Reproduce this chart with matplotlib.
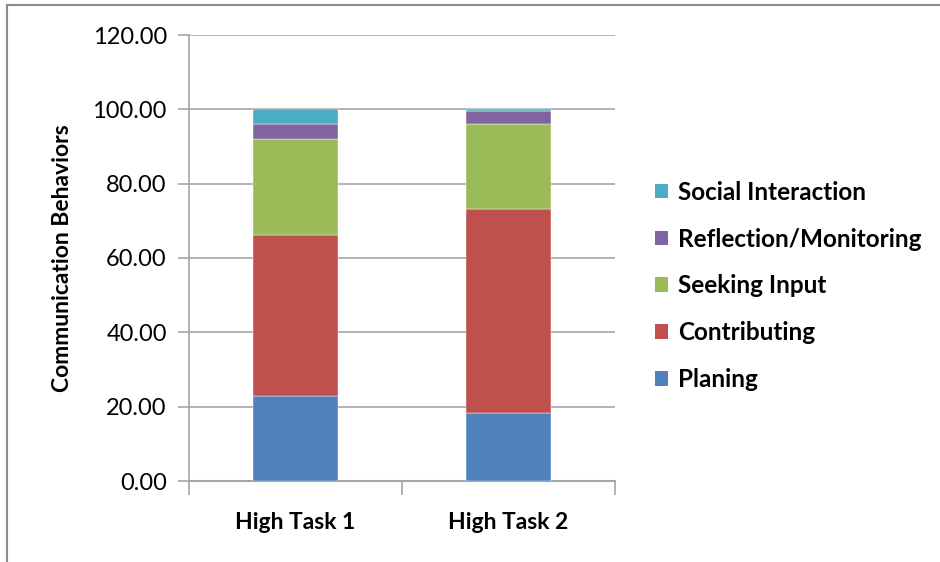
import matplotlib.pyplot as plt
from matplotlib.patches import Patch
from matplotlib.lines import Line2D

categories = ["High Task 1", "High Task 2"]
series_names = ["Planing", "Contributing", "Seeking Input",
                "Reflection/Monitoring", "Social Interaction"]
planing = [23.0, 18.2]
contributing = [43.2, 55.0]
seeking_input = [25.9, 22.8]
reflection = [3.95, 3.5]
social = [3.95, 0.5]
y_ticks = [0, 20, 40, 60, 80, 100, 120]

values = [planing, contributing, seeking_input, reflection, social]
colors = ["#4F81BD", "#C0504D", "#9BBB59", "#8064A2", "#4BACC6"]

plt.rcParams['font.family'] = ['Lato', 'DejaVu Sans']

W, H = 940, 562
fig = plt.figure(figsize=(W / 100, H / 100), dpi=100)

# outer chart frame (top and left edges visible)
fig.add_artist(Line2D([7 / W, 7 / W], [0, 1 - 5 / H], color="#8c8c8c", lw=1.5,
                      transform=fig.transFigure))
fig.add_artist(Line2D([7 / W, 1], [1 - 5 / H, 1 - 5 / H], color="#8c8c8c", lw=1.5,
                      transform=fig.transFigure))

left, right, top, bottom = 189, 615, 35, 481
ax = fig.add_axes([left / W, 1 - bottom / H, (right - left) / W, (bottom - top) / H])

x = list(range(len(categories)))
base = [0.0] * len(categories)
for name, vals, c in zip(series_names, values, colors):
    ax.bar(x, vals, width=0.40, bottom=base, color=c, label=name, zorder=3,
           edgecolor="#ffffff", linewidth=0.3)
    base = [b + v for b, v in zip(base, vals)]

ax.set_xlim(-0.5, len(categories) - 0.5)
ax.set_ylim(0, 120)
ax.set_yticks(y_ticks)
ax.set_yticklabels([f"{t:.2f}" for t in y_ticks], fontsize=17)
ax.yaxis.grid(True, color="#a6a6a6", lw=1.2, zorder=0)

for s in ["top", "right"]:
    ax.spines[s].set_visible(False)
ax.spines["left"].set_color("#a6a6a6")
ax.spines["bottom"].set_color("#a6a6a6")
ax.spines["left"].set_linewidth(1.2)
ax.spines["bottom"].set_linewidth(1.5)
ax.tick_params(axis="y", length=8, color="#a6a6a6", width=1.2, pad=8)

# category labels with boundary tick marks
ax.set_xticks(x)
ax.set_xticklabels(categories, fontsize=16.5, fontweight="bold")
ax.tick_params(axis="x", length=0, pad=22)
ax.set_xticks([-0.5 + i for i in range(len(categories) + 1)], minor=True)
ax.tick_params(axis="x", which="minor", length=10, color="#a6a6a6", width=1.2)

ax.set_ylabel("Communication Behaviors", fontsize=16.5, fontweight="bold", labelpad=14)

handles = [Patch(facecolor=c, label=n) for n, c in zip(series_names, colors)][::-1]
fig.legend(handles=handles, loc="upper left", bbox_to_anchor=(645 / W, 1 - 171 / H),
           frameon=False, prop={"size": 17.5, "weight": "bold"},
           handlelength=0.55, handleheight=0.55, handletextpad=0.4,
           labelspacing=0.98, borderaxespad=0)

fig.savefig("out.png", dpi=100)
